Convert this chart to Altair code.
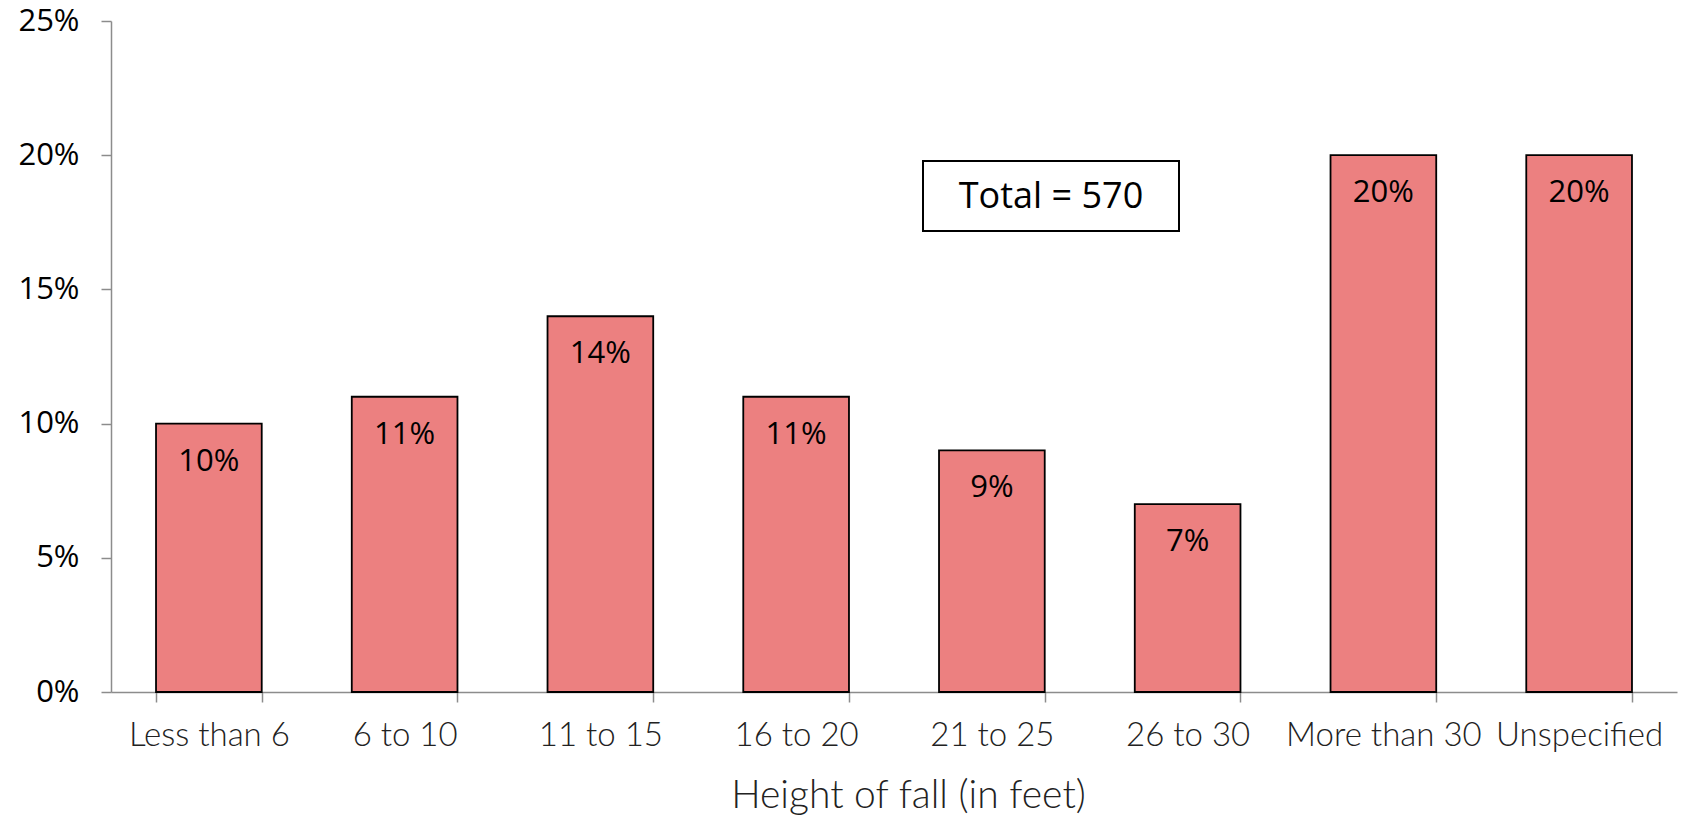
import altair as alt
import pandas as pd

categories = ["Less than 6", "6 to 10", "11 to 15", "16 to 20", "21 to 25", "26 to 30", "More than 30", "Unspecified"]
values = [0.10, 0.11, 0.14, 0.11, 0.09, 0.07, 0.20, 0.20]
total_label = "Total = 570"

df = pd.DataFrame({"cat": categories, "val": values})

W, H = 1566, 671

x = alt.X("cat:N", sort=categories,
          scale=alt.Scale(paddingInner=0.46, paddingOuter=0.23),
          axis=alt.Axis(title="Height of fall (in feet)", labelAngle=0, tickBand="extent",
                        labelLimit=400, labelOverlap=False,
                        labelFont="Lato", labelFontWeight=300, labelFontSize=33, labelColor="#222222",
                        labelPadding=17, tickSize=10, tickColor="#8c8c8c", tickWidth=1.5,
                        domainColor="#8c8c8c", domainWidth=1.5,
                        titleFont="Lato", titleFontWeight=300, titleFontSize=39, titleColor="#222222",
                        titlePadding=24, titleX=W / 2 + 14))
y = alt.Y("val:Q", scale=alt.Scale(domain=[0, 0.25], nice=False),
          axis=alt.Axis(format=".0%", values=[0, 0.05, 0.10, 0.15, 0.20, 0.25], grid=False,
                        labelFont="Open Sans", labelFontSize=31, labelColor="#000000",
                        labelPadding=22, tickSize=10, tickColor="#8c8c8c", tickWidth=1.5,
                        domainColor="#8c8c8c", domainWidth=1.5, title=None))

bars = alt.Chart(df).mark_bar(color="#EC8080", stroke="#000000", strokeWidth=1.8).encode(x=x, y=y)

labels = alt.Chart(df).mark_text(font="Open Sans", fontSize=31, color="#000000", baseline="middle", dy=38).encode(
    x=alt.X("cat:N", sort=categories), y=alt.Y("val:Q"), text=alt.Text("val:Q", format=".0%"))

box = alt.Chart(pd.DataFrame({"t": [total_label]})).mark_rect(fill="white", stroke="black", strokeWidth=2).encode(
    x=alt.value(812), x2=alt.value(1068), y=alt.value(140), y2=alt.value(210))

box_text = alt.Chart(pd.DataFrame({"t": [total_label]})).mark_text(font="Open Sans", fontSize=36, color="#000000",
                                                                   baseline="middle", align="center").encode(
    x=alt.value(940), y=alt.value(176), text="t:N")

chart = alt.layer(bars, labels, box, box_text).properties(
    width=W, height=H, padding={"left": 111, "top": 21, "right": 4, "bottom": 127},
    autosize=alt.AutoSizeParams(type="none")
).configure_view(stroke=None)

chart.save("out.html", embed_options={"renderer": "svg", "actions": False})
